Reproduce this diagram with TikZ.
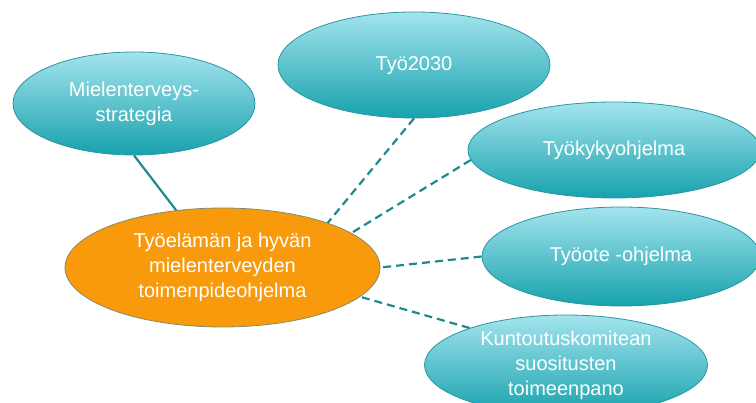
\documentclass[tikz,border=0pt]{standalone}
\usepackage{fontspec}
\setmainfont{Liberation Sans}
\usetikzlibrary{shapes.geometric}
\definecolor{tealtop}{HTML}{A3E4EE}
\definecolor{tealbot}{HTML}{17A2AD}
\definecolor{tealedge}{HTML}{2A97A0}
\definecolor{orangefill}{HTML}{F89A0C}
\definecolor{orangeedge}{HTML}{7F8F6A}
\definecolor{linkcol}{HTML}{1F8A8C}
\begin{document}
\begin{tikzpicture}[x=1pt,y=-1pt,
  bubble/.style={ellipse, draw=tealedge, line width=0.8pt, top color=tealtop, bottom color=tealbot, inner sep=0pt},
  hub/.style={ellipse, draw=orangeedge, line width=0.8pt, fill=orangefill, inner sep=0pt},
  lbl/.style={text=white, font=\fontsize{20}{25}\selectfont, align=center, inner sep=0pt},
  solidlink/.style={draw=linkcol, line width=2.2pt},
  dashlink/.style={draw=linkcol, line width=2.2pt, dash pattern=on 8pt off 5pt}]
\useasboundingbox (0,0) rectangle (756,403);
\node[bubble, minimum width=242pt, minimum height=103pt] (mt) at (134,103.5) {};
\node[lbl] (mtl) at (mt.center) {Mielenterveys-\\strategia};
\node[bubble, minimum width=272pt, minimum height=106pt] (tyo) at (414,65) {};
\node[lbl] (tyol) at (414,66) {Työ2030};
\node[bubble, minimum width=292pt, minimum height=96pt] (tk) at (614,150) {};
\node[lbl] (tkl) at (tk.center) {Työkykyohjelma};
\node[bubble, minimum width=278pt, minimum height=99pt] (to) at (621,256.5) {};
\node[lbl] (tol) at (to.center) {Työote -ohjelma};
\node[bubble, minimum width=283pt, minimum height=100pt] (ku) at (566,365) {};
\node[lbl] (kul) at (ku.center) {Kuntoutuskomitean\\suositusten\\toimeenpano};
\node[hub, minimum width=315pt, minimum height=119pt] (hub) at (222.5,267.5) {};
\node[lbl] (hubl) at (hub.center) {Työelämän ja hyvän\\mielenterveyden\\toimenpideohjelma};
\draw[solidlink] (mt.south) -- (hub.129);
\draw[dashlink] (tyo.south) -- (hub.23.5);
\draw[dashlink] (tk.184) -- (hub.15);
\draw[dashlink] (to.west) -- (hub.east);
\draw[dashlink] (ku.159.5) -- (hub.-12);
\end{tikzpicture}
\end{document}
